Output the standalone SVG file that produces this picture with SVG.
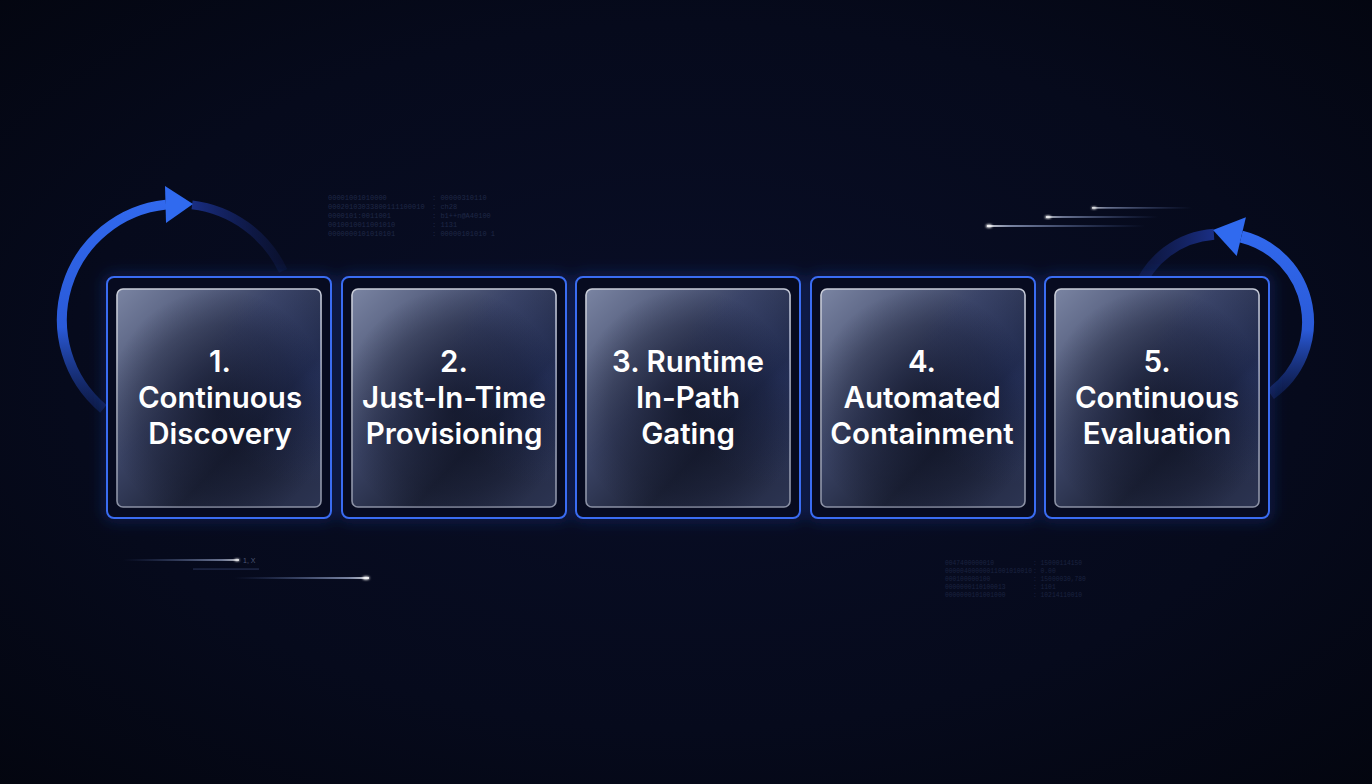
<svg xmlns="http://www.w3.org/2000/svg" width="1372" height="784" viewBox="0 0 1372 784">
<defs>
<radialGradient id="bg" cx="0.5" cy="0.48" r="0.75">
<stop offset="0" stop-color="#090e27"/>
<stop offset="0.6" stop-color="#060a1c"/>
<stop offset="1" stop-color="#03050e"/>
</radialGradient>
<linearGradient id="glass" x1="0" y1="0" x2="1" y2="1">
<stop offset="0" stop-color="#7a84a2"/>
<stop offset="0.4" stop-color="#3a4364"/>
<stop offset="0.65" stop-color="#1e2439"/>
<stop offset="1" stop-color="#2c3452"/>
</linearGradient>
<radialGradient id="dark" cx="0.5" cy="0.55" r="0.55">
<stop offset="0" stop-color="#080b1c" stop-opacity="0.6"/>
<stop offset="0.7" stop-color="#080b1c" stop-opacity="0.25"/>
<stop offset="1" stop-color="#080b1c" stop-opacity="0"/>
</radialGradient>
<radialGradient id="tint" cx="0.95" cy="0.4" r="0.5">
<stop offset="0" stop-color="#3650b0" stop-opacity="0.25"/>
<stop offset="1" stop-color="#3650b0" stop-opacity="0"/>
</radialGradient>
<linearGradient id="edge" x1="0" y1="0" x2="0" y2="1">
<stop offset="0" stop-color="#c9cdd9"/>
<stop offset="1" stop-color="#8a90a4"/>
</linearGradient>
<linearGradient id="arcL" gradientUnits="userSpaceOnUse" x1="0" y1="200" x2="0" y2="412">
<stop offset="0" stop-color="#3169ee"/>
<stop offset="0.6" stop-color="#2a5ad8"/>
<stop offset="1" stop-color="#1c3a9a" stop-opacity="0.3"/>
</linearGradient>
<linearGradient id="arcR" gradientUnits="userSpaceOnUse" x1="0" y1="230" x2="0" y2="396">
<stop offset="0" stop-color="#3169ee"/>
<stop offset="0.6" stop-color="#2a5ad8"/>
<stop offset="1" stop-color="#1c3a9a" stop-opacity="0.3"/>
</linearGradient>
<linearGradient id="dimL" gradientUnits="userSpaceOnUse" x1="190" y1="0" x2="290" y2="0">
<stop offset="0" stop-color="#1a2f86"/>
<stop offset="1" stop-color="#13205a" stop-opacity="0.2"/>
</linearGradient>
<linearGradient id="dimR" gradientUnits="userSpaceOnUse" x1="1215" y1="0" x2="1140" y2="0">
<stop offset="0" stop-color="#1a2f86"/>
<stop offset="1" stop-color="#13205a" stop-opacity="0.5"/>
</linearGradient>
<linearGradient id="streakL" x1="0" y1="0" x2="1" y2="0">
<stop offset="0" stop-color="#ffffff"/>
<stop offset="0.15" stop-color="#b8c6ea" stop-opacity="0.8"/>
<stop offset="1" stop-color="#5a78c8" stop-opacity="0"/>
</linearGradient>
<linearGradient id="streakR" x1="1" y1="0" x2="0" y2="0">
<stop offset="0" stop-color="#ffffff"/>
<stop offset="0.15" stop-color="#b8c6ea" stop-opacity="0.8"/>
<stop offset="1" stop-color="#5a78c8" stop-opacity="0"/>
</linearGradient>
<filter id="glow" x="-20%" y="-20%" width="140%" height="140%">
<feGaussianBlur stdDeviation="7"/>
</filter>
<filter id="soft" x="-50%" y="-50%" width="200%" height="200%">
<feGaussianBlur stdDeviation="1.2"/>
</filter>
<style>
.outer{fill:#070b20;stroke:#3a6cf2;stroke-width:2}
.halo{fill:none;stroke:#2b55e0;stroke-width:6;opacity:0.35}
.glass{fill:url(#glass);stroke:url(#edge);stroke-width:1.6}
.shade{fill:url(#dark)}
.tint{fill:url(#tint)}
.lbl{font-family:Inter,"Liberation Sans",sans-serif;font-size:29.5px;font-weight:600;fill:#ffffff;text-anchor:middle}
.code{font-family:"Liberation Mono","DejaVu Sans Mono",monospace;font-size:7px;fill:#1f2846}
.code2{font-family:"Liberation Mono","DejaVu Sans Mono",monospace;font-size:6.3px;fill:#1b2340}
.small{font-family:"Liberation Sans",sans-serif;font-size:7px;fill:#4d5674}
</style>
</defs>

<rect x="0" y="0" width="1372" height="784" fill="url(#bg)"/>

<g id="decor">
<g class="code">
<text x="328" y="200">00001001010000</text>
<text x="328" y="209">00020103033800111100010</text>
<text x="328" y="218">0000101:0011001</text>
<text x="328" y="227">0010010011001010</text>
<text x="328" y="236">0000000101010101</text>
<text x="432" y="200">: 00000310110</text>
<text x="432" y="209">: ch28</text>
<text x="432" y="218">: b1++n@A40100</text>
<text x="432" y="227">: 1131</text>
<text x="432" y="236">: 00000101010 1</text>
</g>
<g class="code2">
<text x="945" y="565">0047400000010</text>
<text x="945" y="573">00000400000011001010010</text>
<text x="945" y="581">000100000100</text>
<text x="945" y="589">0000000110100013</text>
<text x="945" y="597">0000000101001000</text>
<text x="1033" y="565">: 15000114150</text>
<text x="1033" y="573">: 0.00</text>
<text x="1033" y="581">: 15000030,780</text>
<text x="1033" y="589">: 1101</text>
<text x="1033" y="597">: 10214110010</text>
</g>
<text class="small" x="243" y="563">1, X</text>
<rect x="1092" y="207.3" width="100" height="1.2" fill="url(#streakL)"/>
<rect x="1046" y="216.3" width="112" height="1.4" fill="url(#streakL)"/>
<rect x="987" y="225.2" width="158" height="1.6" fill="url(#streakL)"/>
<ellipse cx="1094" cy="208" rx="2.5" ry="1.3" fill="#ffffff" filter="url(#soft)"/>
<ellipse cx="1048" cy="217" rx="3" ry="1.5" fill="#ffffff" filter="url(#soft)"/>
<ellipse cx="989" cy="226" rx="3.2" ry="1.8" fill="#ffffff" filter="url(#soft)"/>
<rect x="123" y="559.3" width="116" height="1.4" fill="url(#streakR)"/>
<rect x="193" y="568.6" width="66" height="0.9" fill="#4a5b90" opacity="0.6"/>
<rect x="234" y="577.2" width="135" height="1.6" fill="url(#streakR)"/>
<ellipse cx="237" cy="560" rx="2.5" ry="1.3" fill="#ffffff" filter="url(#soft)"/>
<ellipse cx="366" cy="578" rx="3.5" ry="1.8" fill="#ffffff" filter="url(#soft)"/>
</g>

<g id="connectors">
<path d="M 192.1 204.9 A 116 116 0 0 1 283.1 270.9" fill="none" stroke="url(#dimL)" stroke-width="9"/>
<path d="M 103.4 408.9 A 116 116 0 0 1 166 204.6" fill="none" stroke="url(#arcL)" stroke-width="10"/>
<polygon points="165,186 193,204 166,223" fill="#306aef"/>
<path d="M 1213.9 234.2 A 88 88 0 0 0 1137.3 291.9" fill="none" stroke="url(#dimR)" stroke-width="11"/>
<path d="M 1270.5 394.1 A 88 88 0 0 0 1241.3 236.6" fill="none" stroke="url(#arcR)" stroke-width="12"/>
<polygon points="1245.9,217.2 1213,230 1236.7,256" fill="#306aef"/>
</g>

<g id="halos" filter="url(#glow)">
<rect class="halo" x="107" y="277" width="224" height="241" rx="7"/>
<rect class="halo" x="342" y="277" width="224" height="241" rx="7"/>
<rect class="halo" x="576" y="277" width="224" height="241" rx="7"/>
<rect class="halo" x="811" y="277" width="224" height="241" rx="7"/>
<rect class="halo" x="1045" y="277" width="224" height="241" rx="7"/>
</g>

<g id="node1">
<rect class="outer" x="107" y="277" width="224" height="241" rx="7"/>
<rect class="glass" x="117" y="289" width="204" height="218" rx="6"/>
<rect class="tint" x="117" y="289" width="204" height="218" rx="6"/>
<rect class="shade" x="117" y="289" width="204" height="218" rx="6"/>
<text class="lbl" x="220" y="372">1.</text>
<text class="lbl" x="220" y="408">Continuous</text>
<text class="lbl" x="220" y="444">Discovery</text>
</g>
<g id="node2">
<rect class="outer" x="342" y="277" width="224" height="241" rx="7"/>
<rect class="glass" x="352" y="289" width="204" height="218" rx="6"/>
<rect class="tint" x="352" y="289" width="204" height="218" rx="6"/>
<rect class="shade" x="352" y="289" width="204" height="218" rx="6"/>
<text class="lbl" x="454" y="372">2.</text>
<text class="lbl" x="454" y="408">Just-In-Time</text>
<text class="lbl" x="454" y="444">Provisioning</text>
</g>
<g id="node3">
<rect class="outer" x="576" y="277" width="224" height="241" rx="7"/>
<rect class="glass" x="586" y="289" width="204" height="218" rx="6"/>
<rect class="tint" x="586" y="289" width="204" height="218" rx="6"/>
<rect class="shade" x="586" y="289" width="204" height="218" rx="6"/>
<text class="lbl" x="688" y="372">3. Runtime</text>
<text class="lbl" x="688" y="408">In-Path</text>
<text class="lbl" x="688" y="444">Gating</text>
</g>
<g id="node4">
<rect class="outer" x="811" y="277" width="224" height="241" rx="7"/>
<rect class="glass" x="821" y="289" width="204" height="218" rx="6"/>
<rect class="tint" x="821" y="289" width="204" height="218" rx="6"/>
<rect class="shade" x="821" y="289" width="204" height="218" rx="6"/>
<text class="lbl" x="922" y="372">4.</text>
<text class="lbl" x="922" y="408">Automated</text>
<text class="lbl" x="922" y="444">Containment</text>
</g>
<g id="node5">
<rect class="outer" x="1045" y="277" width="224" height="241" rx="7"/>
<rect class="glass" x="1055" y="289" width="204" height="218" rx="6"/>
<rect class="tint" x="1055" y="289" width="204" height="218" rx="6"/>
<rect class="shade" x="1055" y="289" width="204" height="218" rx="6"/>
<text class="lbl" x="1157" y="372">5.</text>
<text class="lbl" x="1157" y="408">Continuous</text>
<text class="lbl" x="1157" y="444">Evaluation</text>
</g>
</svg>
